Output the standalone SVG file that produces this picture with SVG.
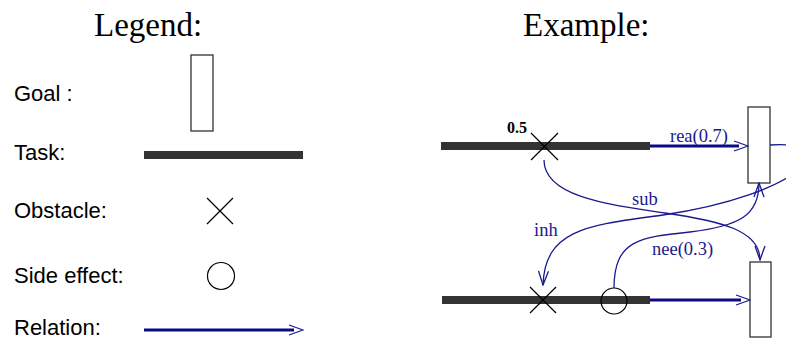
<svg xmlns="http://www.w3.org/2000/svg" width="786" height="340" viewBox="0 0 786 340">
  <style>
    .title { font-family: "Liberation Serif", "Times New Roman", serif; font-size: 33px; fill: #000; }
    .label { font-family: "Liberation Sans", Arial, sans-serif; font-size: 22px; fill: #000; }
    .rel-label { font-family: "Liberation Serif", "Times New Roman", serif; font-size: 18.5px; fill: #1a1a8c; }
    .weight { font-family: "Liberation Serif", "Times New Roman", serif; font-size: 16px; font-weight: bold; fill: #000; }
    .goal { fill: #fff; stroke: #333; stroke-width: 1.3; }
    .task { fill: #333; }
    .obstacle { stroke: #000; stroke-width: 1.2; fill: none; }
    .side { stroke: #000; stroke-width: 1.2; fill: none; }
    .rel { stroke: #0a0a86; stroke-width: 3; fill: none; }
    .curve { stroke: #1a1a8c; stroke-width: 1.3; fill: none; }
  </style>
  <defs>
    <!-- open chevron head; the straight relations end a little short of the tip -->
    <marker id="head-straight" markerUnits="userSpaceOnUse" markerWidth="16" markerHeight="14" viewBox="0 0 16 14" refX="6" refY="7" orient="auto">
      <path d="M1,2 L15,7 L1,12" fill="none" stroke="#1a1a8c" stroke-width="1.3"/>
    </marker>
    <marker id="head" markerUnits="userSpaceOnUse" markerWidth="16" markerHeight="14" viewBox="0 0 16 14" refX="15" refY="7" orient="auto">
      <path d="M1,2 L15,7 L1,12" fill="none" stroke="#1a1a8c" stroke-width="1.3"/>
    </marker>
  </defs>

  <rect width="786" height="340" fill="#fff"/>

  <!-- Legend column -->
  <text class="title" x="94" y="36">Legend:</text>

  <g id="legend-goal">
    <text class="label" x="14" y="101">Goal :</text>
    <rect class="goal" x="191" y="55" width="22" height="76"/>
  </g>
  <g id="legend-task">
    <text class="label" x="14" y="160">Task:</text>
    <rect class="task" x="144" y="151" width="159" height="8"/>
  </g>
  <g id="legend-obstacle">
    <text class="label" x="14" y="218">Obstacle:</text>
    <path class="obstacle" d="M207,198 L233,224 M233,198 L207,224"/>
  </g>
  <g id="legend-side-effect">
    <text class="label" x="14" y="283">Side effect:</text>
    <circle class="side" cx="221" cy="276" r="13.5"/>
  </g>
  <g id="legend-relation">
    <text class="label" x="14" y="335">Relation:</text>
    <line class="rel" x1="144" y1="330" x2="294" y2="330" marker-end="url(#head-straight)"/>
  </g>

  <!-- Example column -->
  <text class="title" x="523" y="36">Example:</text>

  <g id="task-top">
    <rect class="task" x="441" y="142" width="209" height="8"/>
  </g>
  <g id="obstacle-top">
    <path class="obstacle" d="M531,133 L558,160 M558,133 L531,160"/>
    <text class="weight" x="507" y="133">0.5</text>
  </g>
  <g id="goal-top">
    <rect class="goal" x="748" y="107" width="22" height="76"/>
  </g>

  <g id="task-bottom">
    <rect class="task" x="442" y="296" width="208" height="8"/>
  </g>
  <g id="obstacle-bottom">
    <path class="obstacle" d="M530,287 L556,313 M556,287 L530,313"/>
  </g>
  <g id="side-effect-bottom">
    <circle class="side" cx="614" cy="301" r="13"/>
  </g>
  <g id="goal-bottom">
    <rect class="goal" x="750" y="262" width="21" height="75"/>
  </g>

  <g id="connectors">
    <!-- rea(0.7): top task realises top goal -->
    <line class="rel" x1="650" y1="146" x2="739" y2="146" marker-end="url(#head-straight)"/>
    <text class="rel-label" x="670" y="142">rea(0.7)</text>

    <!-- bottom task to bottom goal -->
    <line class="rel" x1="650" y1="300" x2="741" y2="300" marker-end="url(#head-straight)"/>

    <!-- sub: top obstacle to bottom goal -->
    <path class="curve" d="M544,160 C544,197 610,205 665,213 C720,221 760,230 760,260" marker-end="url(#head)"/>
    <text class="rel-label" x="632" y="205">sub</text>

    <!-- inh: top goal loops round to the bottom obstacle -->
    <path class="curve" d="M770,145 C850,140 800,195 663,215 C590,225 545,228 543,285" marker-end="url(#head)"/>
    <text class="rel-label" x="534" y="236">inh</text>

    <!-- nee(0.3): side effect to top goal -->
    <path class="curve" d="M614,288 C614,240 640,237 690,232 C740,226 759,215 759,183" marker-end="url(#head)"/>
    <text class="rel-label" x="652" y="255">nee(0.3)</text>
  </g>
</svg>
